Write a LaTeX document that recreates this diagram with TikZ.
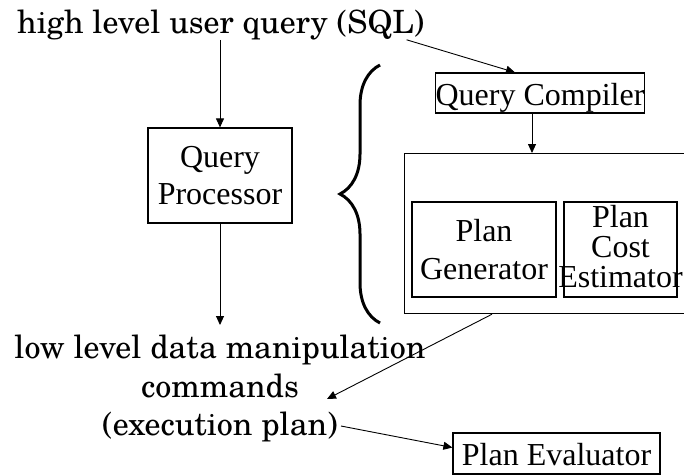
\documentclass[tikz,border=0pt]{standalone}
\usepackage{fontspec}
\setmainfont{Liberation Serif}
\newfontfamily\scholafont{texgyreschola}[Extension=.otf, UprightFont=*-regular]
\usetikzlibrary{arrows.meta,calc,decorations.pathreplacing}

\begin{document}
\begin{tikzpicture}[x=1pt, y=-1pt,
    box/.style={draw, line width=1.2pt, inner sep=0pt, align=center, font=\fontsize{32}{37}\selectfont},
    note/.style={inner sep=0pt, align=center, font=\scholafont\fontsize{32}{38.5}\selectfont},
    link/.style={-{Triangle[length=9pt,width=8pt]}, line width=0.9pt}]
        \useasboundingbox (0,0) rectangle (684,475);
        \clip (0,0) rectangle (684,475);
        \fill[white] (0,0) rectangle (684,475);

        \node[note, anchor=base west] (userquery) at (17,33) {high level user query (SQL)};
        \node[box, minimum width=144pt, minimum height=95pt] (qp) at (220,175.5) {Query\\Processor};
        \node[box, minimum width=208pt, text height=32pt, text depth=8pt, anchor=base] (qc) at (540,105) {Query Compiler};
        \node[box, minimum width=300pt, minimum height=160pt, anchor=north west] (planner) at (404,153) {};
        \node[box, minimum width=144pt, minimum height=95pt, font=\fontsize{32}{38}\selectfont] (pg) at (484,249.5) {Plan\\Generator};
        \node[box, minimum width=113pt, minimum height=95pt] (pce) at (620.5,249.5) {};
        \node[inner sep=0pt, align=center, font=\fontsize{32}{30}\selectfont] (pcelabel) at (620.5,247) {Plan\\Cost\\Estimator};
        \node[note, anchor=north] (lowlevel) at (220,335) {low level data manipulation\\commands\\(execution plan)};
        \node[box, minimum width=207pt, text height=32pt, text depth=9pt, anchor=base] (pe) at (556.5,465) {Plan Evaluator};

        % the brace groups compiler and planner under the processor
        \draw[line width=3pt, decorate, decoration={brace, amplitude=40pt}] (380,323) -- (380,65);

        \coordinate (sqlout) at ($(userquery.south east)+(-18,0)$);
        \coordinate (qcin) at ($(qc.north)+(-25,0)$);
        \coordinate (qcout) at ($(qc.south)+(-8,0)$);
        \coordinate (planout) at ($(planner.south west)+(88,0)$);
        \coordinate (cmdin) at (327,399);
        \coordinate (execout) at (341,426);
        \coordinate (pein) at ($(pe.west)+(0,-6)$);

        \draw[link] (userquery.south -| qp.north) -- (qp.north);
        \draw[link] (sqlout) -- (qcin);
        \draw[link] (qcout) -- (qcout |- planner.north);
        \draw[link] (qp.south) -- (220,325);
        \draw[link] (planout) -- (cmdin);
        \draw[link] (execout) -- (pein);
    \end{tikzpicture}
\end{document}
